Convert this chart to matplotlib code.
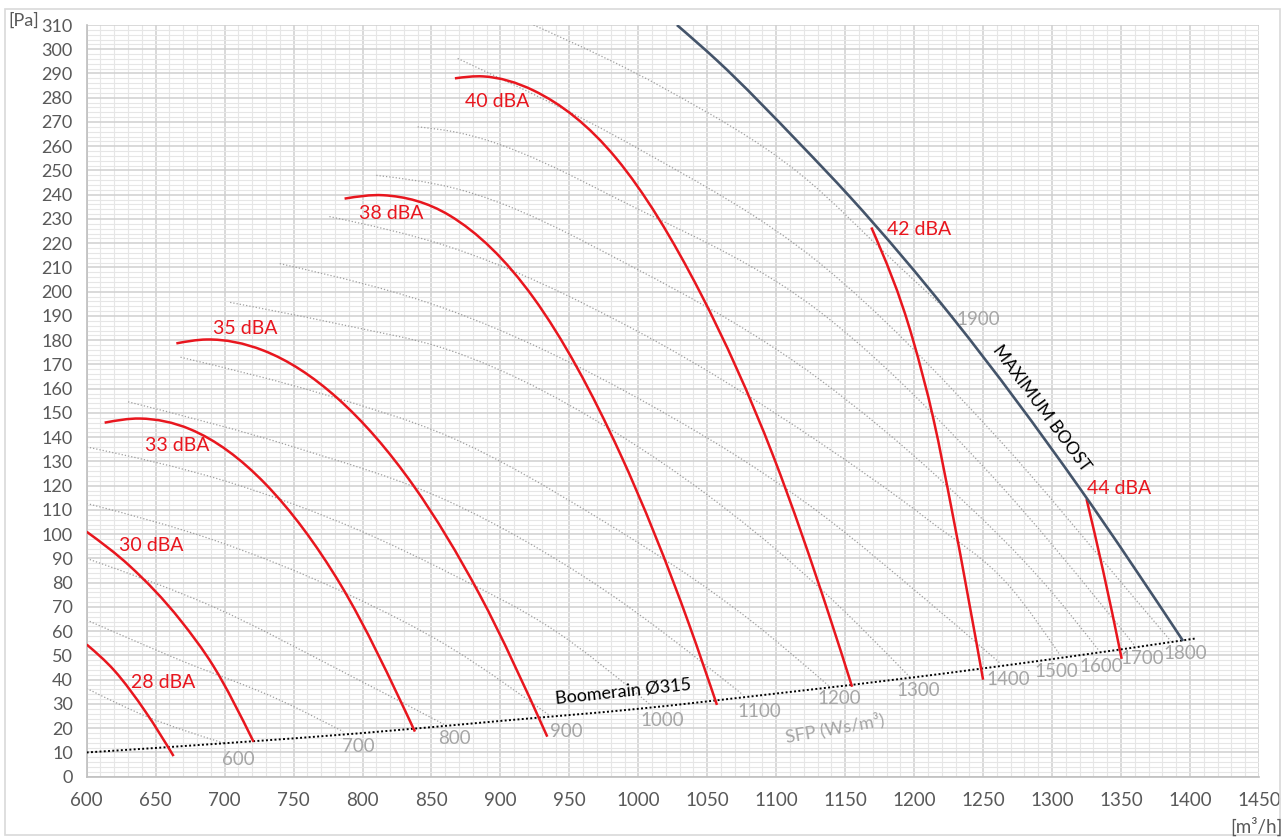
import numpy as np
import matplotlib.pyplot as plt
from matplotlib.ticker import MultipleLocator
from matplotlib.patches import Rectangle, PathPatch
from matplotlib.path import Path

plt.rcParams['font.family'] = ['Lato', 'DejaVu Sans']

# iso-noise curves (airflow m3/h, pressure Pa)
db28_x = [600, 620, 643, 663]
db28_y = [54.5, 43.8, 26.5, 8.5]
db30_x = [600, 631, 668, 692, 721]
db30_y = [101, 87, 64.5, 45.5, 14.4]
db33_x = [613, 638.6, 675, 730, 784, 838]
db33_y = [146, 147.7, 143.3, 120.5, 79.3, 18.6]
db35_x = [665, 687, 728, 782, 837, 885, 934]
db35_y = [178.7, 180.3, 175.8, 156, 120, 75, 16.5]
db38_x = [787, 815, 863, 924, 987, 1037, 1057]
db38_y = [238.4, 239.8, 231.5, 197.5, 133, 62.5, 29.6]
db40_x = [867, 887.5, 924, 984, 1045, 1098, 1139, 1155]
db40_y = [288, 288.8, 283, 255, 199.5, 132, 65.5, 37.1]
db42_x = [1169, 1199, 1214, 1228, 1250]
db42_y = [226.5, 180.5, 147.5, 108, 40]
db44_x = [1325, 1337, 1350.5]
db44_y = [114.5, 85, 48.6]
noise_labels = ['28 dBA', '30 dBA', '33 dBA', '35 dBA', '38 dBA', '40 dBA', '42 dBA', '44 dBA']
noise_label_x = [655.5, 647, 665.3, 715, 820.6, 897.3, 1203.5, 1348.5]
noise_label_y = [39, 95.5, 136.7, 184.9, 232.3, 278.3, 225.8, 118.8]

# maximum boost curve
boost_x = [1028, 1057, 1117, 1153.5, 1228.4, 1320.3, 1395]
boost_y = [310, 295.4, 261.1, 239.1, 188.9, 118.8, 56]

# system curve of the duct
duct_x = [600, 700, 800, 900, 1000, 1100, 1200, 1300, 1404]
duct_y = [10, 13.8, 18, 23, 28, 34.3, 41, 48.5, 57]

# SFP lines (Ws/m3)
sfp_values = [600, 700, 800, 900, 1000, 1100, 1200, 1300, 1400, 1500, 1600, 1700, 1800, 1900]
sfp_x = [
    [600, 644, 701],
    [600, 668, 740, 786],
    [600, 692, 788, 860],
    [600, 692, 788, 863, 935],
    [600, 700, 800, 863, 940, 1008],
    [630, 750, 863, 970, 1076],
    [668, 770, 863, 970, 1081, 1139],
    [704, 780, 863, 1000, 1135, 1197],
    [740, 863, 1000, 1131, 1209, 1263],
    [776, 863, 1000, 1131, 1210, 1270, 1306],
    [810, 863, 1000, 1131, 1220, 1300, 1334],
    [840, 863, 1000, 1131, 1250, 1360],
    [869, 1000, 1131, 1260, 1361, 1386],
    [924, 1020, 1117, 1190, 1228],
]
sfp_y = [
    [36.4, 24.7, 13.6],
    [64.6, 48.0, 31.6, 18.6],
    [90.0, 70.0, 42.6, 21.3],
    [112.7, 97.6, 75.6, 53.5, 25.5],
    [136, 122, 101, 84, 60, 30],
    [154.6, 136, 113.4, 79, 33.7],
    [173, 158, 140.2, 107, 64.6, 37],
    [195.6, 187, 175.9, 136, 76, 41],
    [211.6, 192.4, 156, 109, 72.8, 46.5],
    [231, 218.5, 183.5, 138, 106, 78, 50],
    [248, 243.2, 209, 164, 122, 76, 52],
    [268, 266.3, 234, 192, 128, 54],
    [296.2, 259, 212, 140, 72.8, 56],
    [310, 283.5, 248.7, 210, 190],
]
sfp_label_x = [709.7, 796.7, 867, 948, 1017, 1088, 1146, 1203, 1268, 1303.3, 1336, 1365.7, 1396.9, 1246.5]
sfp_label_y = [6.9, 12.4, 15.8, 18.6, 23, 26.8, 32.3, 35.7, 39.9, 43.3, 45.6, 48.8, 50.9, 188.7]

RED = '#e8161e'
GREY_TXT = '#a6a6a6'
TICK_TXT = '#595959'


def smooth_line(ax, xs, ys, **style):
    # smoothed line through the points: cubic Bezier segments with slopes
    # taken from the neighbouring chords (uneven spacing allowed)
    x = np.asarray(xs, float)
    y = np.asarray(ys, float)
    h = np.diff(x)
    d = np.diff(y) / h
    m = np.empty_like(x)
    if len(x) == 2:
        m[:] = d[0]
    else:
        m[1:-1] = (h[1:] * d[:-1] + h[:-1] * d[1:]) / (h[:-1] + h[1:])
        m[0] = (3 * d[0] - m[1]) / 2
        m[-1] = (3 * d[-1] - m[-2]) / 2
    verts = [(x[0], y[0])]
    codes = [Path.MOVETO]
    for i in range(len(x) - 1):
        t = h[i] / 3
        verts += [(x[i] + t, y[i] + t * m[i]), (x[i + 1] - t, y[i + 1] - t * m[i + 1]), (x[i + 1], y[i + 1])]
        codes += [Path.CURVE4] * 3
    patch = PathPatch(Path(verts, codes), fill=False, **style)
    ax.add_patch(patch)
    return patch


fig = plt.figure(figsize=(12.85, 8.39), dpi=100)
ax = fig.add_axes([86.7 / 1285, 1 - 776.7 / 839, (1258.9 - 86.7) / 1285, (776.7 - 25) / 839])

ax.set_xlim(600, 1450)
ax.set_ylim(0, 310)
ax.xaxis.set_major_locator(MultipleLocator(50))
ax.xaxis.set_minor_locator(MultipleLocator(10))
ax.yaxis.set_major_locator(MultipleLocator(10))
ax.yaxis.set_minor_locator(MultipleLocator(2))
ax.grid(which='major', color='#d0d0d0', linewidth=1.1, zorder=0)
ax.grid(which='minor', color='#e6e6e6', linewidth=0.8, zorder=0)
ax.set_axisbelow(True)
ax.tick_params(which='both', length=0)
ax.tick_params(axis='x', pad=11, labelsize=13.5, labelcolor=TICK_TXT)
ax.tick_params(axis='y', pad=10, labelsize=13, labelcolor=TICK_TXT)
for side in ['top', 'right']:
    ax.spines[side].set_visible(False)
for side in ['left', 'bottom']:
    ax.spines[side].set_color('#bfbfbf')
    ax.spines[side].set_linewidth(1.2)

# SFP dotted lines
for xs, ys in zip(sfp_x, sfp_y):
    smooth_line(ax, xs, ys, edgecolor='#9e9e9e', linewidth=0.9, linestyle=(0, (1, 1.6)), zorder=2)
for val, lx, ly in zip(sfp_values, sfp_label_x, sfp_label_y):
    ax.text(lx, ly, str(val), color=GREY_TXT, fontsize=13.5, ha='center', va='center', zorder=5)

# duct system curve
smooth_line(ax, duct_x, duct_y, edgecolor='black', linewidth=1.4, linestyle=(0, (1, 1.2)), zorder=3)
ax.text(989, 35, 'Boomerain Ø315', fontsize=13, rotation=6, ha='center', va='center',
        rotation_mode='anchor', zorder=5)
ax.text(1142.6, 19.9, 'SFP (Ws/m³)', color=GREY_TXT, fontsize=13, rotation=10,
        ha='center', va='center', rotation_mode='anchor', zorder=5)

# noise curves
noise_curves = [(db28_x, db28_y), (db30_x, db30_y), (db33_x, db33_y), (db35_x, db35_y),
                (db38_x, db38_y), (db40_x, db40_y), (db42_x, db42_y), (db44_x, db44_y)]
for xs, ys in noise_curves:
    smooth_line(ax, xs, ys, edgecolor=RED, linewidth=1.8, capstyle='butt', zorder=4)
for txt, lx, ly in zip(noise_labels, noise_label_x, noise_label_y):
    ax.text(lx, ly, txt, color=RED, fontsize=14, ha='center', va='center', zorder=5)

# maximum boost
smooth_line(ax, boost_x, boost_y, edgecolor='#44546a', linewidth=1.9, zorder=4)
ax.text(1292.5, 152, 'MAXIMUM BOOST', fontsize=12.5, rotation=-53.5, ha='center', va='center',
        rotation_mode='anchor', zorder=5)

# axis units
fig.text(24 / 1285, 1 - 21 / 839, '[Pa]', color=TICK_TXT, fontsize=13, ha='center', va='center')
fig.text(1256 / 1285, 1 - 826 / 839, '[m³/h]', color=TICK_TXT, fontsize=13.5, ha='center', va='center')

# chart border
fig.patches.append(Rectangle((5 / 1285, 4 / 839), 1275 / 1285, 826 / 839, transform=fig.transFigure,
                             fill=False, edgecolor='#d9d9d9', linewidth=1.2))

fig.savefig('out.png', dpi=100)
